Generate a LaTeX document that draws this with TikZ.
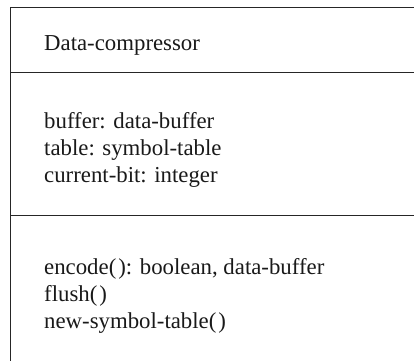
\documentclass[tikz,border=0pt]{standalone}
\usepackage{fontspec}
\setmainfont{Liberation Serif}
\begin{document}
\begin{tikzpicture}[x=1pt,y=-1pt,
  boxline/.style={draw=black!85,line width=0.9pt},
  txt/.style={anchor=base west,inner sep=0pt,font=\fontsize{22.8}{27}\selectfont,text=black!90}]
\useasboundingbox (0,0) rectangle (414,361);
\coordinate (tl) at (10,7);
\coordinate (tr) at (414,7);
\coordinate (bl) at (10,361);
\coordinate (d1l) at (10,72);
\coordinate (d1r) at (414,72);
\coordinate (d2l) at (10,215);
\coordinate (d2r) at (414,215);
\draw[boxline] (tr) -- (tl) -- (bl);
\draw[boxline] (d1l) -- (d1r);
\draw[boxline] (d2l) -- (d2r);
\node[txt] (title) at (44,50) {Data-compressor};
\node[txt] (a1) at (44,128) {buffer: data-buffer};
\node[txt] (a2) at (44,155) {table: symbol-table};
\node[txt] (a3) at (44,182) {current-bit: integer};
\node[txt] (m1) at (44,274) {encode(\kern2pt): boolean, data-buffer};
\node[txt] (m2) at (44,301) {flush(\kern2pt)};
\node[txt] (m3) at (44,328) {new-symbol-table(\kern2pt)};
\end{tikzpicture}
\end{document}
